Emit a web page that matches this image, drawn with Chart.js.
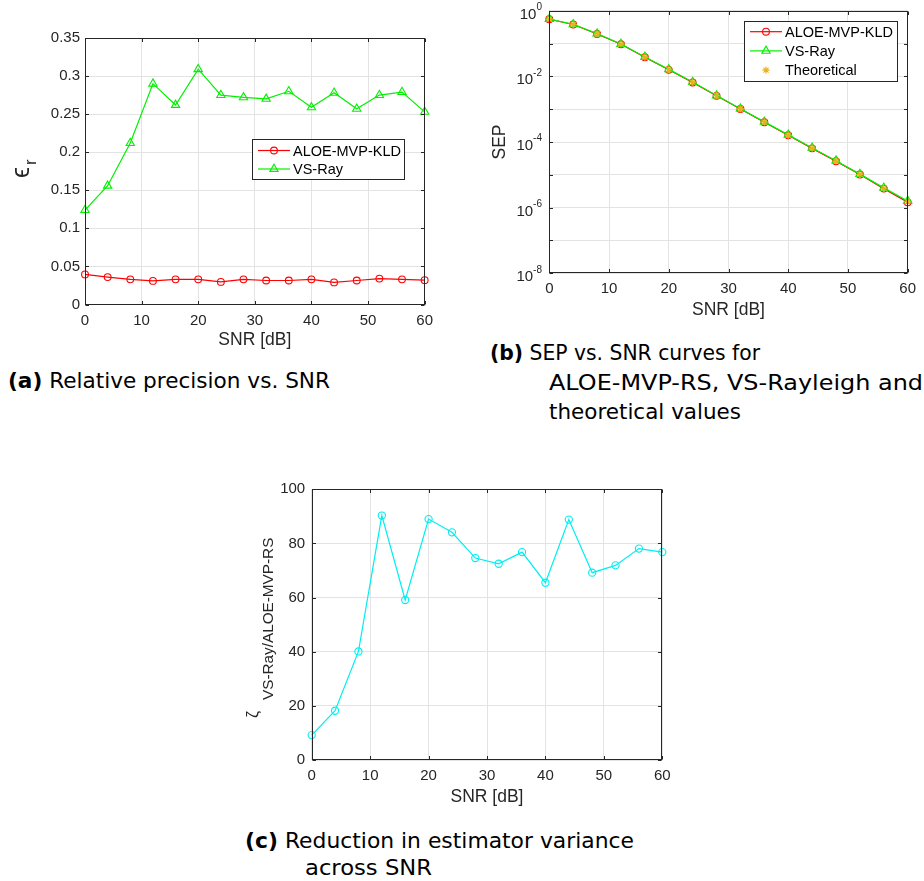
<!DOCTYPE html>
<html>
<head>
<meta charset="utf-8">
<title>ALOE-MVP vs. VS-Ray across SNR</title>
<script src="https://cdn.jsdelivr.net/npm/chart.js@4.4.1/dist/chart.umd.min.js"></script>
<style>
  html, body { margin: 0; padding: 0; background: #fff; }
  body { position: relative; width: 924px; height: 881px; overflow: hidden; }
  canvas { position: absolute; display: block; }
  .cap {
    position: absolute; white-space: nowrap; color: #000;
    font-family: "DejaVu Sans", "Liberation Sans", sans-serif;
    font-size: 21px; line-height: 24px; transform-origin: 0 50%;
  }
  .cap b { font-weight: bold; }
</style>
</head>
<body>
<canvas id="precisionChart" width="440" height="352" style="left:0;top:0"></canvas>
<canvas id="sepChart" width="464" height="330" style="left:460px;top:0"></canvas>
<canvas id="reductionChart" width="450" height="344" style="left:230px;top:470px"></canvas>

<div class="cap" data-w="322" style="left:8px;top:369px"><b>(a)</b> Relative precision vs. SNR</div>
<div class="cap" data-w="270" style="left:490px;top:341px"><b>(b)</b> SEP vs. SNR curves for</div>
<div class="cap" data-w="374" style="left:549px;top:371px">ALOE-MVP-RS, VS-Rayleigh and</div>
<div class="cap" data-w="192" style="left:549px;top:400px">theoretical values</div>
<div class="cap" data-w="389" style="left:245px;top:829px"><b>(c)</b> Reduction in estimator variance</div>
<div class="cap" data-w="127" style="left:305px;top:856px">across SNR</div>

<script>
// ---- data -------------------------------------------------------------
const snrDb = [0, 4, 8, 12, 16, 20, 24, 28, 32, 36, 40, 44, 48, 52, 56, 60];

// relative precision epsilon_r
const aloePrecision  = [0.0395, 0.036, 0.033, 0.031, 0.033, 0.033, 0.0297, 0.033,
                        0.0315, 0.0315, 0.033, 0.029, 0.0315, 0.034, 0.033, 0.032];
const vsRayPrecision = [0.124, 0.156, 0.212, 0.290, 0.262, 0.309, 0.275, 0.272,
                        0.270, 0.280, 0.259, 0.278, 0.257, 0.275, 0.279, 0.253];

// symbol error probability
const aloeSep   = [0.55, 0.38, 0.195, 0.095, 0.038, 0.0158, 0.0065, 0.00255,
                   0.00101, 4.0e-4, 1.6e-4, 6.4e-5, 2.6e-5, 1.02e-5, 3.8e-6, 1.45e-6];
const vsRaySep  = [0.56, 0.385, 0.20, 0.097, 0.039, 0.0163, 0.0067, 0.0026,
                   0.00103, 4.1e-4, 1.65e-4, 6.6e-5, 2.7e-5, 1.05e-5, 4.0e-6, 1.6e-6];
const theorySep = [0.555, 0.383, 0.197, 0.096, 0.0385, 0.016, 0.0066, 0.00257,
                   0.00102, 4.05e-4, 1.62e-4, 6.5e-5, 2.65e-5, 1.03e-5, 3.9e-6, 1.52e-6];

// variance reduction zeta (VS-Ray / ALOE-MVP-RS)
const varianceReduction = [9.2, 18.2, 40.1, 90.3, 59.1, 89.0, 84.1, 74.6,
                           72.5, 76.8, 65.5, 88.8, 69.2, 71.9, 78.1, 76.8];

// tick values
const snrTicks        = [0, 10, 20, 30, 40, 50, 60];
const precisionTicks  = [0, 0.05, 0.1, 0.15, 0.2, 0.25, 0.3, 0.35];
const sepGridExponents  = [0, -1, -2, -3, -4, -5, -6, -7, -8];
const sepLabelExponents = [0, -2, -4, -6, -8];
const reductionTicks  = [0, 20, 40, 60, 80, 100];

// ---- styling ----------------------------------------------------------
const FONT = '"Liberation Sans", Arial, Helvetica, sans-serif';
const INK = '#262626';
const GRID = '#e3e3e3';
const TICK_SIZE = 15;
const TITLE_SIZE = 17.5;
const RED = '#ff0000', GREEN = '#00f000', ORANGE = '#edb120', CYAN = '#00eef0';

Chart.defaults.font.family = FONT;
Chart.defaults.color = INK;

const toPoints = ys => snrDb.map((x, i) => ({ x, y: ys[i] }));
const fixedTicks = values => scale => { scale.ticks = values.map(v => ({ value: v })); };

function snrAxis(height, titlePad) {
  return {
    type: 'linear', min: 0, max: 60,
    afterBuildTicks: fixedTicks(snrTicks),
    grid: { color: GRID, lineWidth: 1, drawTicks: false },
    border: { display: false },
    ticks: { color: INK, font: { size: TICK_SIZE }, padding: 7, maxRotation: 0, autoSkip: false,
             callback: v => String(v) },
    title: { display: true, text: 'SNR [dB]', color: INK, font: { size: TITLE_SIZE },
             padding: { top: 0, bottom: titlePad } },
    afterFit: s => { s.height = height; }
  };
}

// Box around the axes with short inward tick marks on every side
const axesBox = {
  id: 'axesBox',
  afterDatasetsDraw(chart) {
    const { ctx, chartArea: a, scales: { x, y } } = chart;
    const L = Math.round(a.left) + 0.5, R = Math.round(a.right) - 0.5;
    const T = Math.round(a.top) + 0.5, B = Math.round(a.bottom) - 0.5;
    const len = 3.5;
    ctx.save();
    ctx.strokeStyle = INK;
    ctx.lineWidth = 1;
    ctx.beginPath();
    x.ticks.forEach(t => {
      const px = Math.round(x.getPixelForValue(t.value)) + 0.5;
      ctx.moveTo(px, B); ctx.lineTo(px, B - len);
      ctx.moveTo(px, T); ctx.lineTo(px, T + len);
    });
    y.ticks.forEach(t => {
      const py = Math.round(y.getPixelForValue(t.value)) + 0.5;
      ctx.moveTo(L, py); ctx.lineTo(L + len, py);
      ctx.moveTo(R, py); ctx.lineTo(R - len, py);
    });
    ctx.stroke();
    ctx.strokeRect(L, T, R - L, B - T);
    ctx.restore();
  }
};

// Boxed legend placed inside the plot area
const boxLegend = {
  id: 'boxLegend',
  afterDraw(chart, args, o) {
    const ctx = chart.ctx;
    ctx.save();
    ctx.fillStyle = '#fff';
    ctx.fillRect(o.x, o.y, o.w, o.h);
    ctx.strokeStyle = INK;
    ctx.lineWidth = 1;
    ctx.strokeRect(o.x + 0.5, o.y + 0.5, o.w, o.h);
    o.rows.forEach((dsIndex, row) => {
      const ds = chart.data.datasets[dsIndex];
      const cy = o.y + o.firstRow + row * o.rowGap;
      ctx.strokeStyle = ds.borderColor;
      if (ds.showLine !== false) {
        ctx.lineWidth = ds.borderWidth;
        ctx.beginPath();
        ctx.moveTo(o.x + o.lineFrom, cy);
        ctx.lineTo(o.x + o.lineTo, cy);
        ctx.stroke();
      }
      ctx.fillStyle = 'rgba(0,0,0,0)';
      ctx.strokeStyle = ds.pointBorderColor;
      ctx.lineWidth = ds.pointBorderWidth;
      Chart.helpers.drawPoint(ctx, {
        pointStyle: ds.pointStyle, radius: ds.pointRadius, rotation: 0, borderWidth: ds.pointBorderWidth
      }, o.x + (o.lineFrom + o.lineTo) / 2, cy);
      ctx.fillStyle = '#000';
      ctx.font = o.fontSize + 'px ' + FONT;
      ctx.textBaseline = 'middle';
      ctx.textAlign = 'left';
      ctx.fillText(ds.label, o.x + o.textX, cy + 1);
    });
    ctx.restore();
  }
};

// Rotated axis labels built from a symbol and a subscript
const mathTitle = {
  id: 'mathTitle',
  afterDraw(chart, args, o) {
    const ctx = chart.ctx;
    ctx.save();
    ctx.fillStyle = INK;
    ctx.textAlign = 'left';
    ctx.textBaseline = 'alphabetic';
    o.parts.forEach(p => {
      ctx.save();
      ctx.translate(p.x, p.y);
      ctx.rotate(-Math.PI / 2);
      ctx.font = p.size + 'px ' + FONT;
      ctx.fillText(p.text, 0, 0);
      ctx.restore();
    });
    ctx.restore();
  }
};

// Power-of-ten labels (10 with a raised exponent) for the log axis
const powerLabels = {
  id: 'powerLabels',
  afterDraw(chart, args, o) {
    const { ctx, scales: { y } } = chart;
    ctx.save();
    ctx.fillStyle = INK;
    ctx.textBaseline = 'middle';
    ctx.textAlign = 'left';
    sepLabelExponents.forEach(e => {
      const py = y.getPixelForValue(Math.pow(10, e));
      const exp = String(e);
      ctx.font = o.expSize + 'px ' + FONT;
      const we = ctx.measureText(exp).width;
      ctx.font = o.baseSize + 'px ' + FONT;
      const wb = ctx.measureText('10').width;
      ctx.fillText('10', o.right - we - wb, py + 4);
      ctx.font = o.expSize + 'px ' + FONT;
      ctx.fillText(exp, o.right - we, py - 3.5);
    });
    ctx.restore();
  }
};

function lineSet(label, ys, color, style, radius, extra) {
  return Object.assign({
    label, data: toPoints(ys),
    borderColor: color, backgroundColor: 'rgba(0,0,0,0)', borderWidth: 1.2,
    pointStyle: style, pointRadius: radius, pointHoverRadius: radius,
    pointBorderColor: color, pointBackgroundColor: 'rgba(0,0,0,0)', pointBorderWidth: 1.1,
    tension: 0, clip: false
  }, extra || {});
}

const common = {
  responsive: false, animation: false, events: [],
  plugins: { legend: { display: false }, tooltip: { enabled: false } }
};

// (a) relative precision
new Chart(document.getElementById('precisionChart'), {
  type: 'line',
  data: { datasets: [
    lineSet('ALOE-MVP-KLD', aloePrecision, RED, 'circle', 3.4),
    lineSet('VS-Ray', vsRayPrecision, GREEN, 'triangle', 4.8)
  ] },
  options: Object.assign({}, common, {
    layout: { padding: { top: 38, right: 15, left: 0, bottom: 0 } },
    scales: {
      x: snrAxis(47.5, 1.5),
      y: {
        type: 'linear', min: 0, max: 0.35,
        afterBuildTicks: fixedTicks(precisionTicks),
        grid: { color: GRID, lineWidth: 1, drawTicks: false },
        border: { display: false },
        ticks: { color: INK, font: { size: TICK_SIZE }, padding: 5,
                 callback: v => String(+Number(v).toFixed(2)) },
        afterFit: s => { s.width = 85; }
      }
    },
    plugins: Object.assign({}, common.plugins, {
      boxLegend: { x: 252, y: 139, w: 152, h: 40, firstRow: 11.5, rowGap: 18.5,
                   lineFrom: 6, lineTo: 38, textX: 41, fontSize: 14.5, rows: [0, 1] },
      mathTitle: { parts: [
        { text: '\u03f5', size: 25, x: 29, y: 178 },
        { text: 'r', size: 17, x: 36, y: 165 }
      ] }
    })
  }),
  plugins: [axesBox, boxLegend, mathTitle]
});

// (b) SEP vs. SNR on a log axis
new Chart(document.getElementById('sepChart'), {
  type: 'line',
  data: { datasets: [
    lineSet('ALOE-MVP-KLD', aloeSep, RED, 'circle', 3.4, { order: 3 }),
    lineSet('VS-Ray', vsRaySep, GREEN, 'triangle', 4.8, { order: 2 }),
    lineSet('Theoretical', theorySep, ORANGE, 'star', 3.6, { order: 1, showLine: false })
  ] },
  options: Object.assign({}, common, {
    layout: { padding: { top: 10.7, right: 16.3, left: 0, bottom: 0 } },
    scales: {
      x: snrAxis(56.7, 9.5),
      y: {
        type: 'logarithmic', min: 1e-8, max: 1,
        afterBuildTicks: s => { s.ticks = sepGridExponents.map(e => ({ value: Math.pow(10, e) })); },
        grid: { color: GRID, lineWidth: 1, drawTicks: false },
        border: { display: false },
        ticks: { display: false },
        title: { display: true, text: 'SEP', color: INK, font: { size: TITLE_SIZE },
                 padding: { top: 30, bottom: 0 } },
        afterFit: s => { s.width = 89.3; }
      }
    },
    plugins: Object.assign({}, common.plugins, {
      boxLegend: { x: 284, y: 21, w: 153, h: 60, firstRow: 10.7, rowGap: 19.2,
                   lineFrom: 6, lineTo: 38, textX: 41, fontSize: 14.5, rows: [0, 1, 2] },
      powerLabels: { right: 82, baseSize: 15, expSize: 10 }
    })
  }),
  plugins: [axesBox, boxLegend, powerLabels]
});

// (c) variance reduction
new Chart(document.getElementById('reductionChart'), {
  type: 'line',
  data: { datasets: [
    lineSet('VS-Ray/ALOE-MVP-RS', varianceReduction, CYAN, 'circle', 3.6)
  ] },
  options: Object.assign({}, common, {
    layout: { padding: { top: 19.3, right: 17.7, left: 0, bottom: 0 } },
    scales: {
      x: snrAxis(54, 6),
      y: {
        type: 'linear', min: 0, max: 100,
        afterBuildTicks: fixedTicks(reductionTicks),
        grid: { color: GRID, lineWidth: 1, drawTicks: false },
        border: { display: false },
        ticks: { color: INK, font: { size: TICK_SIZE }, padding: 6.5, callback: v => String(v) },
        afterFit: s => { s.width = 81.7; }
      }
    },
    plugins: Object.assign({}, common.plugins, {
      mathTitle: { parts: [
        { text: '\u03b6', size: 16, x: 28, y: 248 },
        { text: 'VS-Ray/ALOE-MVP-RS', size: 15.3, x: 43.3, y: 230 }
      ] }
    })
  }),
  plugins: [axesBox, mathTitle]
});

// captions: stretch each line horizontally to its set width
function fitCaptions() {
  document.querySelectorAll('.cap').forEach(el => {
    el.style.transform = 'none';
    const actual = el.getBoundingClientRect().width;
    el.style.transform = 'scaleX(' + (+el.dataset.w / actual) + ')';
  });
}
fitCaptions();
if (document.fonts && document.fonts.ready) document.fonts.ready.then(fitCaptions);
</script>
</body>
</html>
